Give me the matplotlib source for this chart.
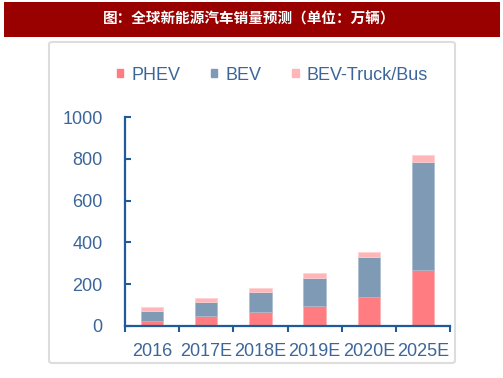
import matplotlib.pyplot as plt
from matplotlib.patches import FancyBboxPatch, Rectangle, Patch
import numpy as np

plt.rcParams['font.family'] = ['Liberation Sans', 'DejaVu Sans']

years = ["2016", "2017E", "2018E", "2019E", "2020E", "2025E"]
phev = [24, 48, 68, 96, 139, 268]
bev = [49, 68, 96, 135, 193, 517]
truck_bus = [18, 18, 19, 21, 21, 32]

title = "图：全球新能源汽车销量预测（单位：万辆）"

c_phev = "#FF7C80"
c_bev = "#7F9AB5"
c_truck = "#FFB6B8"
axis_blue = "#1F5A9A"
label_blue = "#3C6699"

W, H = 503, 378
fig = plt.figure(figsize=(W / 100, H / 100), dpi=100)

# title banner
fig.patches.append(Rectangle((4 / W, 1 - 37 / H), 496 / W, 35 / H,
                             transform=fig.transFigure, facecolor="#990000",
                             edgecolor="none"))
fig.text(249 / W, 1 - 19 / H, title, color="white", fontsize=10.5,
         fontweight="bold", ha="center", va="center",
         family=['Noto Sans CJK SC', 'DejaVu Sans'])

# light grey frame
fig.patches.append(FancyBboxPatch((49 / W, 1 - 363 / H), 406 / W, 321 / H,
                                  boxstyle="round,pad=0,rounding_size=0.006",
                                  transform=fig.transFigure, facecolor="none",
                                  edgecolor="#DDDDDD", linewidth=1.5))

ax = fig.add_axes([125 / W, 1 - 326 / H, 325 / W, 209 / H])
x = np.arange(len(years))
bw = 0.41
phev_a = np.array(phev)
bev_a = np.array(bev)
ax.bar(x, phev_a, bw, color=c_phev, edgecolor="#FFB0B0", linewidth=0.5)
ax.bar(x, bev_a, bw, bottom=phev_a, color=c_bev, edgecolor="#A8BBCF",
       linewidth=0.5)
ax.bar(x, truck_bus, bw, bottom=phev_a + bev_a, color=c_truck,
       edgecolor="#FFD0D0", linewidth=0.5)

ax.set_xlim(-0.5, len(years) - 0.5)
ax.set_ylim(0, 1000)
ax.set_yticks(range(0, 1001, 200))
ax.set_xticks(x)
ax.set_xticklabels(years)
ax.set_xticks(np.arange(-0.5, len(years), 1.0), minor=True)

for side in ["top", "right"]:
    ax.spines[side].set_visible(False)
for side in ["left", "bottom"]:
    ax.spines[side].set_color(axis_blue)
    ax.spines[side].set_linewidth(1.6)

ax.tick_params(axis="y", direction="in", length=4, width=1.5,
               color=axis_blue, labelcolor=label_blue, labelsize=13, pad=16)
ax.tick_params(axis="x", which="major", length=0, labelcolor=label_blue,
               labelsize=13, pad=12)
ax.tick_params(axis="x", which="minor", direction="out", length=4,
               width=1.5, color=axis_blue)

handles = [Patch(color=c_phev), Patch(color=c_bev), Patch(color=c_truck)]
leg = fig.legend(handles, ["PHEV", "BEV", "BEV-Truck/Bus"], ncol=3,
                 loc="center left", bbox_to_anchor=(117 / W, 1 - 75 / H),
                 frameon=False, fontsize=13, handlelength=0.35,
                 handleheight=0.35, handletextpad=0.45, columnspacing=1.7,
                 borderaxespad=0, borderpad=0)
for t in leg.get_texts():
    t.set_color(label_blue)

fig.savefig("out.png", dpi=100)
